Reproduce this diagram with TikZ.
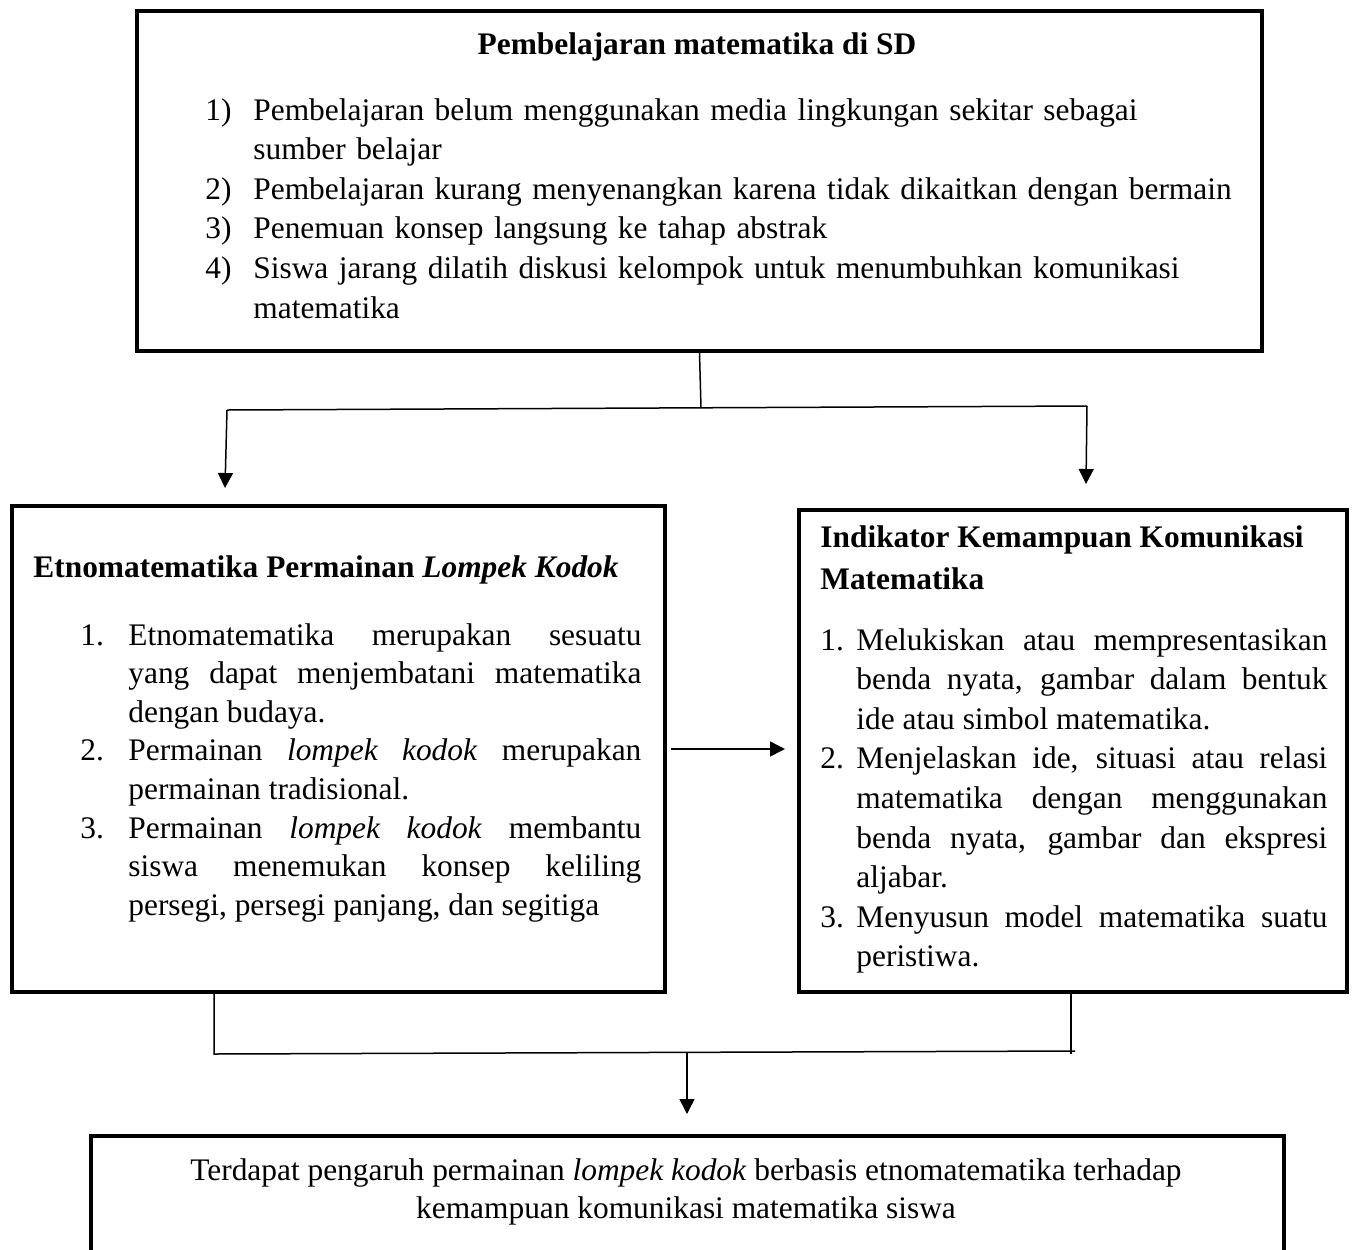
\documentclass[tikz,border=0pt]{standalone}
\usepackage{fontspec}
\setmainfont{Liberation Serif}
\usetikzlibrary{arrows.meta}

\newdimen\hangw
\newcommand{\listrow}[2]{\par\hangindent=\hangw\hangafter=1\noindent\hbox to\hangw{#1\hfil}#2}

\begin{document}
\begin{tikzpicture}[x=0.5pt, y=-0.5pt, >={Triangle[width=7.5pt,length=7.5pt]},
    box/.style={draw, line width=2pt, rectangle, inner sep=0, anchor=north west},
    txt/.style={inner sep=0, font=\fontsize{15.7}{19.8}\selectfont, anchor=north west},
    ttl/.style={inner sep=0, font=\fontsize{15.7}{19.8}\selectfont\bfseries},
    link/.style={line width=0.75pt}]
        \clip (0,0) rectangle (1356,1249);

        % Boxes
        \node[box, minimum width=562.5pt, minimum height=170pt] (topbox) at (135,9) {};
        \node[box, minimum width=326.5pt, minimum height=243pt] (etnobox) at (10,504) {};
        \node[box, minimum width=274pt, minimum height=241pt] (indibox) at (797,508) {};
        \node[box, minimum width=596.5pt, minimum height=70pt] (hasilbox) at (89,1134) {};

        % Texts
        \node[ttl, anchor=base] (toptitle) at (697,54) {Pembelajaran matematika di SD};
        \node[txt, text width=530pt, align=left] (toplist) at (205,80) {\hangw=24pt
            \listrow{1)}{Pembelajaran belum menggunakan media lingkungan sekitar sebagai\newline sumber belajar}
            \listrow{2)}{Pembelajaran kurang menyenangkan karena tidak dikaitkan dengan bermain}
            \listrow{3)}{Penemuan konsep langsung ke tahap abstrak}
            \listrow{4)}{Siswa jarang dilatih diskusi kelompok untuk menumbuhkan komunikasi\newline matematika}\par};

        \node[ttl, anchor=base west] (etnotitle) at (33,577) {Etnomatematika Permainan \textit{Lompek Kodok}};
        \node[txt, text width=280.5pt, align=justify, font=\fontsize{15.7}{19.3}\selectfont] (etnolist) at (80,606) {\hangw=24pt
            \listrow{1.}{Etnomatematika merupakan sesuatu\linebreak yang dapat menjembatani matematika\linebreak dengan budaya.}
            \listrow{2.}{Permainan \textit{lompek kodok} merupakan\linebreak permainan tradisional.}
            \listrow{3.}{Permainan \textit{lompek kodok} membantu\linebreak siswa menemukan konsep keliling\linebreak persegi, persegi panjang, dan segitiga}\par};

        \node[ttl, anchor=north west, align=left, font=\fontsize{15.7}{21}\selectfont\bfseries] (indititle) at (820,525) {Indikator Kemampuan Komunikasi\\Matematika};
        \node[txt, text width=253.5pt, align=justify] (indilist) at (820,610) {\hangw=18pt
            \listrow{1.}{Melukiskan atau mempresentasikan\linebreak benda nyata, gambar dalam bentuk\linebreak ide atau simbol matematika.}
            \listrow{2.}{Menjelaskan ide, situasi atau relasi\linebreak matematika dengan menggunakan\linebreak benda nyata, gambar dan ekspresi\linebreak aljabar.}
            \listrow{3.}{Menyusun model matematika suatu\linebreak peristiwa.}\par};

        \node[txt, anchor=north, align=center, font=\fontsize{15.7}{19}\selectfont] (hasiltext) at (686,1158) {Terdapat pengaruh permainan \textit{lompek kodok} berbasis etnomatematika terhadap\\kemampuan komunikasi matematika siswa};

        % Connectors
        \coordinate (split) at (701,408);
        \coordinate (lturn) at (227,410);
        \coordinate (rturn) at (1087,406);
        \coordinate (ltip) at (225,488);
        \coordinate (rtip) at (1086,484);
        \draw[link] (topbox.south) -- (split);
        \draw[link] (lturn) -- (rturn);
        \draw[link, ->] (lturn) -- (ltip);
        \draw[link, ->] (rturn) -- (rtip);
        \draw[link, ->] ([xshift=2pt]etnobox.east) -- ([xshift=-6pt]etnobox.east -| indibox.west);

        \coordinate (ljoin) at (214,1054);
        \coordinate (rjoin) at (1075,1051);
        \coordinate (rdrop) at (1071,1054);
        \coordinate (mjoin) at (687,1053);
        \draw[link] (etnobox.south -| ljoin) -- (ljoin) -- (rjoin);
        \draw[link] (indibox.south -| rdrop) -- (rdrop);
        \draw[link, ->] (mjoin) -- ([yshift=10pt]hasilbox.north -| mjoin);
\end{tikzpicture}
\end{document}
